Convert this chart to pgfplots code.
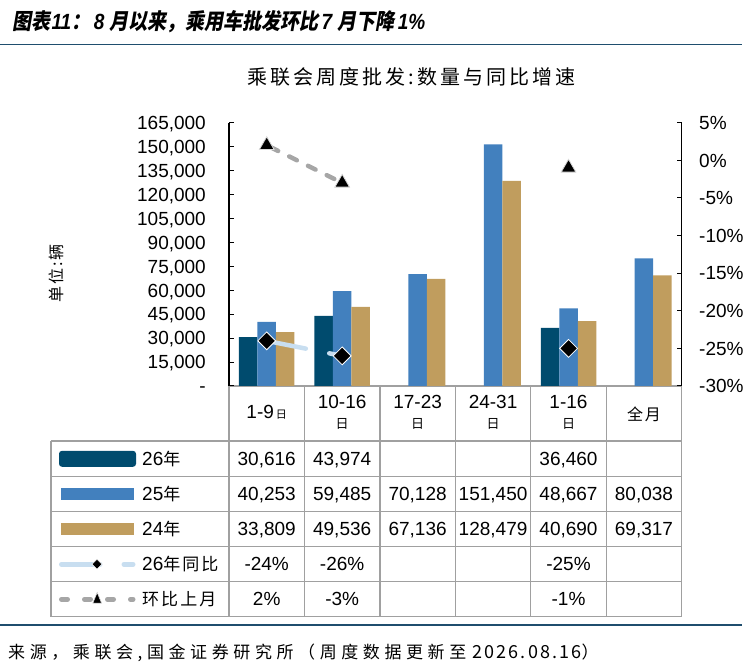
\documentclass[border=0pt]{standalone}
\usepackage{fontspec}
\usepackage{pgfplots}
\pgfplotsset{compat=1.18}
\setmainfont{Liberation Sans}
\newfontfamily\cjk{Noto Sans CJK SC}
\newfontfamily\cjksp[LetterSpace=12]{Noto Sans CJK SC}
\newfontfamily\cjksrc[LetterSpace=27]{Noto Sans CJK SC}
\newfontfamily\cjkti[LetterSpace=15]{Noto Sans CJK SC}
\newfontfamily\cjkt[FakeSlant=0.2]{Noto Sans CJK SC}
\definecolor{c26}{RGB}{0,75,110}
\definecolor{c25}{RGB}{66,128,190}
\definecolor{c24}{RGB}{192,157,94}
\definecolor{ctb}{RGB}{200,222,240}
\definecolor{chb}{RGB}{166,166,166}
\definecolor{gridc}{RGB}{160,160,160}
\definecolor{rulec}{RGB}{31,78,110}
\newcommand{\fs}[1]{\fontsize{#1bp}{#1bp}\selectfont}
\newcommand{\cell}[3]{\node[anchor=base, inner sep=0] at ({266.7+75.45*#1},{#2-6.8}) {\fs{19}#3};}
\pgfplotsset{base/.style={at={(229bp,276bp)}, anchor=south west, scale only axis,
  width=452.7bp, height=263.3bp, xmin=-0.5, xmax=5.5, axis x line=none, clip=false,
  scaled y ticks=false,
  tick align=inside, major tick length=5bp, every tick/.style={black, line width=1bp},
  axis line style={-, black, line width=1.2bp},
  yticklabel style={font=\fs{19}, inner sep=0pt, text height=13.6bp, text depth=0pt}}}
\begin{document}
\begin{tikzpicture}[x=1bp,y=1bp]
\useasboundingbox (0,0) rectangle (747,662);
\clip (0,0) rectangle (742,662);
% main title
\node[anchor=base west, inner sep=0] at (12,632) {\scalebox{0.865}[1]{\fs{22}{\cjkt\bfseries 图表}\hspace{1.5bp}{\bfseries\itshape 11}{\cjkt\bfseries ：}\hspace{4bp}{\bfseries\itshape 8}\hspace{6bp}{\cjkt\bfseries 月以来，乘用车批发环比}\hspace{3bp}{\bfseries\itshape 7}\hspace{6bp}{\cjkt\bfseries 月下降}\hspace{4bp}{\bfseries\itshape 1\%}}};
\draw[rulec, line width=1.5bp] (0,617.5) -- (742,617.5);
% chart title
\node[anchor=base, inner sep=0] at (411.5,577) {\cjkti\fs{20}乘联会周度批发:数量与同比增速};
% y label
\node[rotate=90, inner sep=0] at (56,388.7) {\cjksp\fs{16}单位:辆};
% table grid
\begin{scope}[gridc, line width=1.2bp]
\draw (229,276) -- (681.7,276);
\foreach \y in {221,185.3,150.3,115.3,80.3,45.3} {\draw (51,\y) -- (681.7,\y);}
\draw (51,221) -- (51,45.3);
\foreach \i in {0,...,6} {\draw ({229+75.45*\i},276) -- ({229+75.45*\i},45.3);}
\end{scope}
% bars
\begin{axis}[base, ymin=0, ymax=165000, axis y line*=left,
  ytick={0,15000,30000,45000,60000,75000,90000,105000,120000,135000,150000,165000},
  yticklabels={-\hspace{11bp},{15,000},{30,000},{45,000},{60,000},{75,000},{90,000},{105,000},{120,000},{135,000},{150,000},{165,000}},
  yticklabel shift=23bp]
\addplot[ybar, bar width=18.5bp, bar shift=-18.5bp, fill=c26, draw=none] coordinates {(0,30616) (1,43974) (4,36460)};
\addplot[ybar, bar width=18.5bp, bar shift=0bp, fill=c25, draw=none] coordinates {(0,40253) (1,59485) (2,70128) (3,151450) (4,48667) (5,80038)};
\addplot[ybar, bar width=18.5bp, bar shift=18.5bp, fill=c24, draw=none] coordinates {(0,33809) (1,49536) (2,67136) (3,128479) (4,40690) (5,69317)};
\end{axis}
% percentages
\begin{axis}[base, ymin=-30, ymax=5, axis y line*=right,
  ytick={-30,-25,-20,-15,-10,-5,0,5},
  yticklabels={-30\%,-25\%,-20\%,-15\%,-10\%,-5\%,0\%,5\%},
  yticklabel style={anchor=west}, yticklabel shift=17.3bp]
\addplot[chb, line width=4.5bp, dash pattern=on 8.5bp off 12.4bp, dash phase=16.65bp, line cap=round,
  mark=triangle*, mark size=8.5bp, mark options={solid, fill=black, draw=white!85!black, line width=0.8bp}]
  coordinates {(0,2) (1,-3)};
\addplot[only marks, mark=triangle*, mark size=8.5bp, mark options={solid, fill=black, draw=white!85!black, line width=0.8bp}]
  coordinates {(4,-1)};
\addplot[ctb, line width=4.5bp, dash pattern=on 39.85bp off 23.9bp, line cap=round,
  mark=square*, mark size=6.3bp, mark options={solid, rotate=45, fill=black, draw=white, line width=0.8bp}]
  coordinates {(0,-24) (1,-26)};
\addplot[only marks, mark=square*, mark size=6.3bp, mark options={solid, rotate=45, fill=black, draw=white, line width=0.8bp}]
  coordinates {(4,-25)};
\end{axis}
% header
\node[anchor=base, inner sep=0] at (266.7,243.5) {\fs{19}1-9\hspace{2bp}{\cjk\fs{11}日}};
\foreach \c/\t in {1/10-16,2/17-23,3/24-31,4/1-16} {
  \node[anchor=base, inner sep=0] at ({266.7+75.45*\c},253.5) {\fs{19}\t};
  \node[inner sep=0] at ({266.7+75.45*\c},237.8) {\cjk\fs{13}日};
}
\node[inner sep=0] at (644,247.5) {\cjksp\fs{16}全月};
% legend column
\fill[c26, rounded corners=3bp] (59,195.2) rectangle (136,211.2);
\fill[c25] (61,161.8) rectangle (134,173.8);
\fill[c24] (61,126.8) rectangle (134,138.8);
\draw[ctb, line width=5bp, line cap=round] (61.5,97.8) -- (100,97.8);
\draw[ctb, line width=5bp, line cap=round] (124,97.8) -- (133,97.8);
\filldraw[fill=black, draw=white, line width=0.6bp] (97,92.8) -- (102,97.8) -- (97,102.8) -- (92,97.8) -- cycle;
\draw[chb, line width=5bp, line cap=round, dash pattern=on 6bp off 17bp] (61.5,62.8) -- (133,62.8);
\filldraw[fill=black, draw=white!85!black, line width=0.6bp] (92.8,58.8) -- (101.6,58.8) -- (97.2,69.5) -- cycle;
\node[anchor=base west, inner sep=0] at (142,196.4) {\fs{19}26{\cjk\fs{17}年}};
\node[anchor=base west, inner sep=0] at (142,161) {\fs{19}25{\cjk\fs{17}年}};
\node[anchor=base west, inner sep=0] at (142,126) {\fs{19}24{\cjk\fs{17}年}};
\node[anchor=base west, inner sep=0] at (142,91) {\fs{19}26{\cjksp\fs{17}年同比}};
\node[anchor=base west, inner sep=0] at (142,56) {\cjksp\fs{17}环比上月};
% table values
\cell{0}{203.15}{30,616} \cell{1}{203.15}{43,974} \cell{4}{203.15}{36,460}
\cell{0}{167.8}{40,253} \cell{1}{167.8}{59,485} \cell{2}{167.8}{70,128} \cell{3}{167.8}{151,450} \cell{4}{167.8}{48,667} \cell{5}{167.8}{80,038}
\cell{0}{132.8}{33,809} \cell{1}{132.8}{49,536} \cell{2}{132.8}{67,136} \cell{3}{132.8}{128,479} \cell{4}{132.8}{40,690} \cell{5}{132.8}{69,317}
\cell{0}{97.8}{-24\%} \cell{1}{97.8}{-26\%} \cell{4}{97.8}{-25\%}
\cell{0}{62.8}{2\%} \cell{1}{62.8}{-3\%} \cell{4}{62.8}{-1\%}
% bottom rule and source
\draw[rulec, line width=1.5bp] (0,37) -- (742,37);
\node[anchor=base west, inner sep=0] at (8,3.5) {{\cjksrc\fs{17}来源，乘联会,国金证券研究所（周度数据更新至}\hspace{6bp}{\cjksp\fs{18}2026.08.16}{\cjk\fs{17}）}};
\end{tikzpicture}
\end{document}
